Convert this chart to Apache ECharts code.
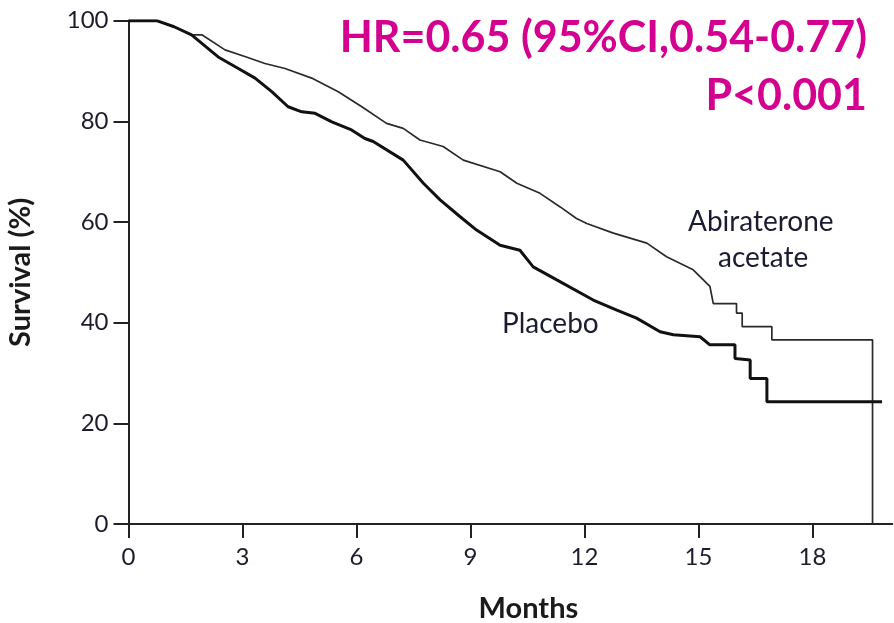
<!DOCTYPE html>
<html><head><meta charset="utf-8">
<script src="https://cdn.jsdelivr.net/npm/echarts@6/dist/echarts.min.js"></script>
<style>html,body{margin:0;padding:0;background:#fff}#c{width:894px;height:623px}</style>
</head><body><div id="c"></div>
<script>
// Months (x) and survival % (y)
const abirateroneMonths = [0,0.74,1.2,1.66,1.93,2.54,3.1,3.59,4.12,4.82,5.52,6.14,6.79,7.23,7.67,8.28,8.81,9.78,10.22,10.83,11.36,11.79,12.06,12.76,13.64,14.16,14.86,15.3,15.39,16.0,16.0,16.15,16.15,16.93,16.93,19.58,19.58];
const abirateroneSurv   = [100,100,98.8,97.2,97.2,94.2,92.8,91.5,90.5,88.6,85.9,82.9,79.6,78.6,76.3,75.0,72.3,70.0,67.7,65.7,63.0,60.7,59.7,57.8,55.8,53.1,50.5,47.2,43.8,43.8,41.9,41.9,39.2,39.2,36.6,36.6,0];
const placeboMonths = [0,0.74,1.2,1.66,1.93,2.36,2.89,3.33,3.77,4.2,4.56,4.91,5.35,5.87,6.22,6.44,7.23,7.76,8.2,8.72,9.16,9.78,10.3,10.65,11.27,12.23,12.85,13.37,13.99,14.34,15.04,15.3,15.96,15.96,16.36,16.36,16.8,16.8,19.83];
const placeboSurv   = [100,100,98.8,97.2,95.5,92.8,90.5,88.6,85.9,82.9,81.9,81.6,79.9,78.3,76.6,76.0,72.3,67.7,64.4,61.1,58.4,55.4,54.4,51.1,48.5,44.5,42.5,40.9,38.2,37.6,37.2,35.6,35.6,32.9,32.6,28.9,28.9,24.3,24.3];
const xTicks = [0,3,6,9,12,15,18];
const yTicks = [0,20,40,60,80,100];
const hrText = 'HR=0.65 (95%CI,0.54-0.77)';
const pText = 'P<0.001';

const zip = (a,b) => a.map((v,i)=>[v,b[i]]);
const chart = echarts.init(document.getElementById('c'));
const labelFont = 'Lato, "Open Sans", sans-serif';
chart.setOption({
  animation:false,
  backgroundColor:'#fff',
  grid:{left:128.5, top:20.7, width:763.8, height:503.3, containLabel:false, outerBoundsMode:'none'},
  xAxis:{type:'value', min:0, max:20.1, interval:3,
    name:'Months', nameLocation:'middle', nameGap:70,
    nameTextStyle:{fontFamily:labelFont, fontWeight:'bold', fontSize:29, color:'#1a1a1a', padding:[0,0,0,36]},
    axisLine:{lineStyle:{color:'#222', width:2}},
    axisTick:{length:14, lineStyle:{color:'#222', width:2}},
    axisLabel:{fontFamily:labelFont, fontSize:24, color:'#1c1c2c', margin:21, showMaxLabel:false,
      formatter: v => xTicks.includes(v) ? String(v) : ''},
    splitLine:{show:false}},
  yAxis:{type:'value', min:0, max:100, interval:20,
    name:'Survival (%)', nameLocation:'middle', nameGap:93,
    nameTextStyle:{fontFamily:labelFont, fontWeight:'bold', fontSize:29, color:'#1a1a1a'},
    axisLine:{show:true, lineStyle:{color:'#222', width:2}},
    axisTick:{show:true, length:15, lineStyle:{color:'#222', width:2}},
    axisLabel:{fontFamily:labelFont, fontSize:24, color:'#1c1c2c', margin:20,
      formatter: v => yTicks.includes(v) ? String(v) : ''},
    splitLine:{show:false}},
  series:[
    {type:'line', name:'Abiraterone acetate', data:zip(abirateroneMonths, abirateroneSurv), symbol:'none',
      lineStyle:{color:'#2a2a2a', width:1.7}, z:3},
    {type:'line', name:'Placebo', data:zip(placeboMonths, placeboSurv), symbol:'none',
      lineStyle:{color:'#111', width:3}, z:4}
  ],
  graphic:[
    {type:'text', right:27, top:17, style:{text:hrText, font:'bold 43px Lato, "Open Sans", sans-serif', fill:'#d4008f', textAlign:'right'}},
    {type:'text', right:27, top:75, style:{text:pText, font:'bold 43px Lato, "Open Sans", sans-serif', fill:'#d4008f', textAlign:'right'}},
    {type:'text', left:688, top:208, style:{text:'Abiraterone', font:'28px Lato, "Open Sans", sans-serif', fill:'#1c1c30'}},
    {type:'text', left:718, top:244, style:{text:'acetate', font:'28px Lato, "Open Sans", sans-serif', fill:'#1c1c30'}},
    {type:'text', left:502, top:310, style:{text:'Placebo', font:'28px Lato, "Open Sans", sans-serif', fill:'#1c1c30'}}
  ]
});
</script></body></html>
